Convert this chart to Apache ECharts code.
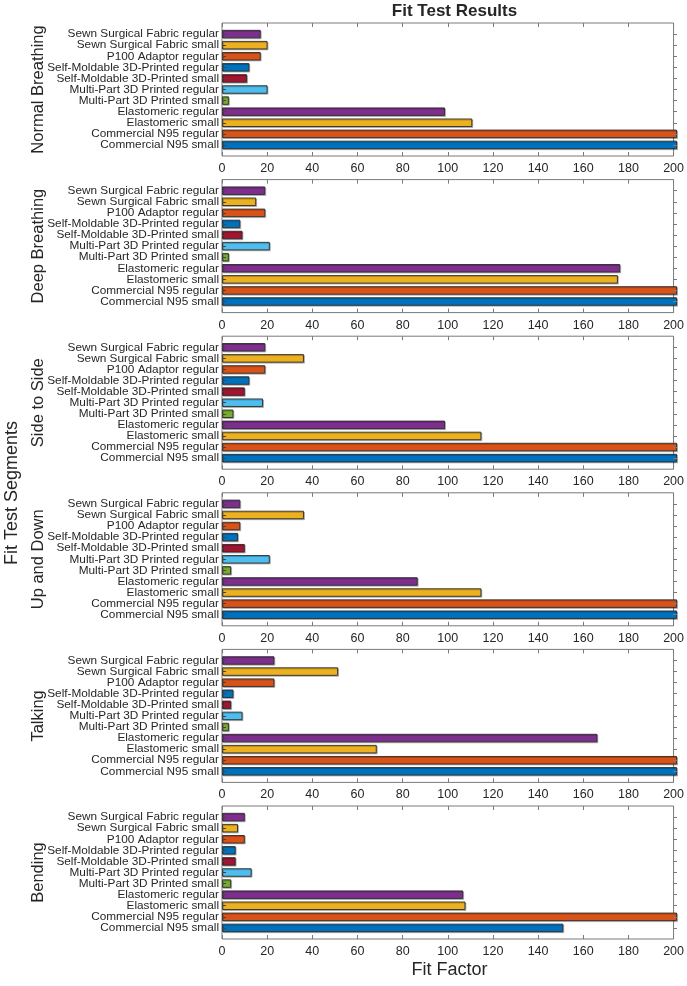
<!DOCTYPE html>
<html>
<head>
<meta charset="utf-8">
<script src="https://cdn.jsdelivr.net/npm/echarts@6/dist/echarts.min.js"></script>
<style>
html,body{margin:0;padding:0;background:#fff;}
#chart{width:687px;height:986px;}
</style>
</head>
<body>
<div id="chart"></div>
<script>
// Categories listed bottom to top
const categories = [
  'Commercial N95 small',
  'Commercial N95 regular',
  'Elastomeric small',
  'Elastomeric regular',
  'Multi-Part 3D Printed small',
  'Multi-Part 3D Printed regular',
  'Self-Moldable 3D-Printed small',
  'Self-Moldable 3D-Printed regular',
  'P100 Adaptor regular',
  'Sewn Surgical Fabric small',
  'Sewn Surgical Fabric regular'
];
const panelNames = ['Normal Breathing', 'Deep Breathing', 'Side to Side', 'Up and Down', 'Talking', 'Bending'];
const normalBreathing = [200, 200, 110, 98, 3, 20, 11, 12, 17, 20, 17];
const deepBreathing   = [200, 200, 174, 175, 3, 21, 9, 8, 19, 15, 19];
const sideToSide      = [200, 200, 114, 98, 5, 18, 10, 12, 19, 36, 19];
const upAndDown       = [200, 200, 114, 86, 4, 21, 10, 7, 8, 36, 8];
const talking         = [200, 200, 68, 165, 3, 9, 4, 5, 23, 51, 23];
const bending         = [150, 200, 107, 106, 4, 13, 6, 6, 10, 7, 10];
const panelValues = [normalBreathing, deepBreathing, sideToSide, upAndDown, talking, bending];
const barColors = ['#0072BD', '#D95319', '#EDB120', '#7E2F8E', '#77AC30', '#4DBEEE', '#A2142F', '#0072BD', '#D95319', '#EDB120', '#7E2F8E'];
const xMin = 0, xMax = 200, xStep = 20;
const chartTitle = 'Fit Test Results';
const xTitle = 'Fit Factor';
const yTitle = 'Fit Test Segments';

const FONT = '"Liberation Sans", Arial, Helvetica, sans-serif';
const TXT = '#262626';
const AX = '#7a7a7a';
const plotLeft = 222, plotWidth = 455, boxH = 133, pitch = 156.6, firstTop = 23;
const unit = boxH / 12;

const grid = [], xAxis = [], yAxis = [], series = [], graphic = [];
panelValues.forEach((vals, i) => {
  const top = firstTop + i * pitch;
  const og = grid.length;
  grid.push({left: plotLeft, width: plotWidth, top: top, height: boxH, show: true,
    borderColor: AX, borderWidth: 1, backgroundColor: '#fff', containLabel: false});
  const ig = grid.length;
  grid.push({left: plotLeft, width: plotWidth, top: top + unit / 2, height: boxH - unit, containLabel: false});
  // outer axes
  xAxis.push({type: 'value', gridIndex: og, min: xMin, max: xMax, interval: xStep, position: 'bottom',
    axisLine: {show: false}, splitLine: {show: false},
    axisTick: {show: true, inside: true, length: 4, lineStyle: {color: AX}},
    axisLabel: {show: true, fontFamily: FONT, fontSize: 12.5, color: TXT, margin: 6}});
  xAxis.push({type: 'value', gridIndex: og, min: xMin, max: xMax, interval: xStep, position: 'top',
    axisLine: {show: false}, splitLine: {show: false},
    axisTick: {show: true, inside: true, length: 4, lineStyle: {color: AX}},
    axisLabel: {show: false}});
  yAxis.push({type: 'value', gridIndex: og, min: 0, max: 12, show: false});
  // inner axes
  const ix = xAxis.length;
  xAxis.push({type: 'value', gridIndex: ig, min: xMin, max: xMax, show: false});
  const iy = yAxis.length;
  yAxis.push({type: 'category', gridIndex: ig, data: categories, position: 'left', z: 5,
    axisLine: {show: false},
    axisTick: {show: true, inside: true, alignWithLabel: true, interval: 0, length: 4, lineStyle: {color: '#444'}},
    axisLabel: {interval: 0, fontFamily: FONT, fontSize: 11.8, color: TXT, margin: 3}});
  yAxis.push({type: 'category', gridIndex: ig, data: categories, position: 'right', z: 5,
    axisLine: {show: false},
    axisTick: {show: true, inside: true, alignWithLabel: true, interval: 0, length: 4, lineStyle: {color: AX}},
    axisLabel: {show: false}});
  series.push({type: 'bar', xAxisIndex: ix, yAxisIndex: iy, data: vals, barWidth: '76%',
    itemStyle: {color: (p) => barColors[p.dataIndex], borderColor: '#2a2a2a', borderWidth: 0.9,
      shadowColor: 'rgba(0,0,0,0.25)', shadowOffsetX: 1, shadowOffsetY: 1, shadowBlur: 0},
    silent: true, animation: false});
  graphic.push({type: 'text', x: 38, y: top + boxH / 2, rotation: Math.PI / 2,
    style: {text: panelNames[i], fontFamily: FONT, fontSize: 16.5, fill: TXT, align: 'center', verticalAlign: 'middle'}});
});
graphic.push({type: 'text', x: 12, y: 493, rotation: Math.PI / 2,
  style: {text: yTitle, fontFamily: FONT, fontSize: 18, fill: TXT, align: 'center', verticalAlign: 'middle'}});
graphic.push({type: 'text', x: plotLeft + plotWidth / 2, y: 970,
  style: {text: xTitle, fontFamily: FONT, fontSize: 18, fill: TXT, align: 'center', verticalAlign: 'middle'}});

const chart = echarts.init(document.getElementById('chart'), null, {renderer: 'canvas'});
chart.setOption({
  animation: false,
  backgroundColor: '#fff',
  title: {text: chartTitle, left: plotLeft + plotWidth / 2, textAlign: 'center', top: -2,
    textStyle: {fontFamily: FONT, fontSize: 17, fontWeight: 'bold', color: TXT}},
  grid, xAxis, yAxis, series, graphic
});
</script>
</body>
</html>
